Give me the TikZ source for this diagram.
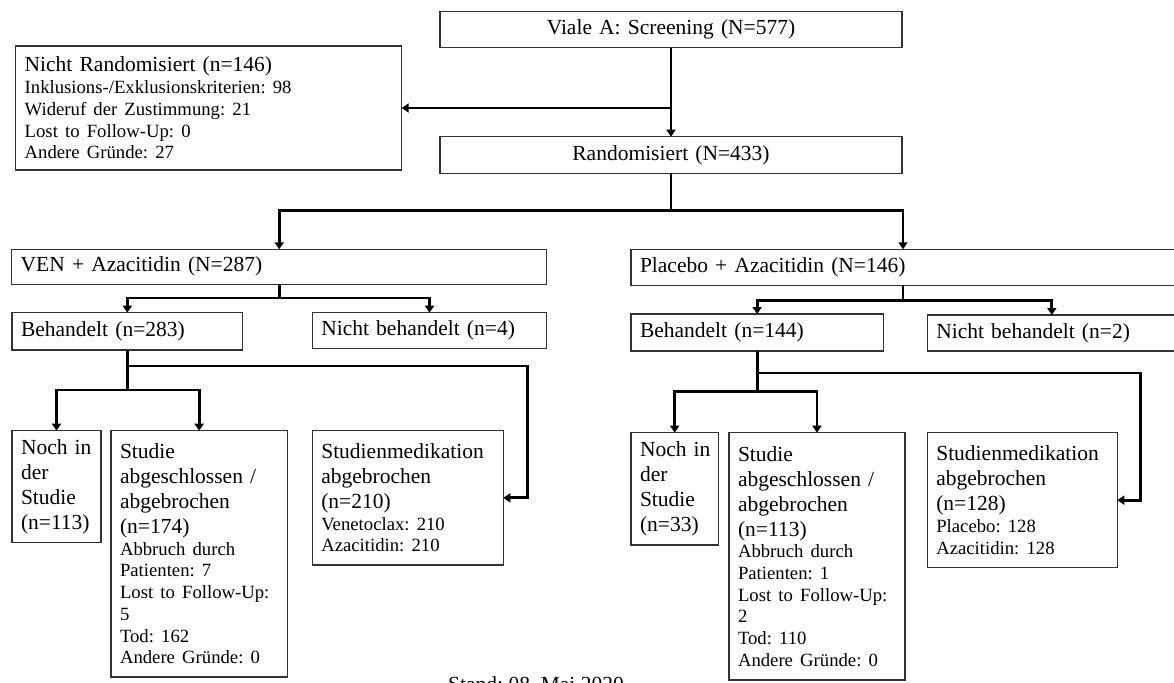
\documentclass[tikz,border=0pt]{standalone}
\usepackage{fontspec}
\setmainfont{Liberation Serif}
\usetikzlibrary{arrows.meta, calc}
\frenchspacing

\newcommand{\boxfont}{\fontsize{21.5}{25}\selectfont}
\newcommand{\notefont}{\fontsize{18.7}{21.7}\selectfont}

\begin{document}
\begin{tikzpicture}[
    x=1pt, y=-1pt,
    box/.style={draw=black!80, line width=1.5pt, rectangle, anchor=north west, outer sep=0pt,
                inner xsep=9pt, inner ysep=0pt, align=left, fill=white, font=\boxfont},
    centerbox/.style={box, align=center},
    narrowbox/.style={box, inner xsep=7pt},
    flow_line/.style={line width=2.8pt, black},
    flow_arrow/.style={flow_line, -{Triangle[length=7pt, width=9pt]}}
]
\fill[white] (0,0) rectangle (1174,682);
\useasboundingbox (0,0) rectangle (1174,682);
\clip (0,0) rectangle (1174,682);

% 1. Screening und Randomisierung
\node[centerbox, text width=444, minimum height=36] (screen) at (440,11.7) {Viale A: Screening (N=577)};
\node[box, text width=368, minimum height=124] (nrand) at (15.7,46)
    {Nicht Randomisiert (n=146)\par\notefont Inklusions-/Exklusionskriterien: 98\\ Wideruf der Zustimmung: 21\\ Lost to Follow-Up: 0\\ Andere Gründe: 27\par};
\node[centerbox, text width=444, minimum height=36.6] (rand) at (440,136.7) {Randomisiert (N=433)};

% 2. Studienarme
\node[box, text width=517, minimum height=35] (ven) at (11.7,249.3) {VEN + Azacitidin (N=287)};
\node[box, text width=526, minimum height=36] (pla) at (631,249.3) {Placebo + Azacitidin (N=146)};

\node[box, text width=212.7, minimum height=37.3] (beh_v) at (12,312.7) {Behandelt (n=283)};
\node[box, text width=216.4, minimum height=35.6] (nbeh_v) at (312.3,312.7) {Nicht behandelt (n=4)};
\node[box, text width=234.3, minimum height=37] (beh_p) at (631,314) {Behandelt (n=144)};
\node[box, text width=231, minimum height=36] (nbeh_p) at (927.3,315) {Nicht behandelt (n=2)};

% 3. Verlauf VEN + Azacitidin
\node[narrowbox, text width=75, minimum height=112] (noch_v) at (12,430.7) {\hspace{2pt}Noch in\\ \hspace*{2pt}der\\ \hspace*{2pt}Studie\\ \hspace*{2pt}(n=113)};
\node[box, text width=158.3, minimum height=246.3] (stud_v) at (111,430.7)
    {Studie\\ abgeschlossen /\\ abgebrochen\\ (n=174)\par\notefont Abbruch durch\\ Patienten: 7\\ Lost to Follow-Up:\\ 5\\ Tod: 162\\ Andere Gründe: 0\par};
\node[box, text width=173, minimum height=134.3] (med_v) at (312.3,430.7)
    {Studienmedikation\\ abgebrochen\\ (n=210)\par\notefont Venetoclax: 210\\ Azacitidin: 210\par};

% 4. Verlauf Placebo + Azacitidin
\node[narrowbox, text width=73.3, minimum height=112.3] (noch_p) at (631,432.7) {\hspace{2pt}Noch in\\ \hspace*{2pt}der\\ \hspace*{2pt}Studie\\ \hspace*{2pt}(n=33)};
\node[box, text width=158, minimum height=247.3] (stud_p) at (729,432.7)
    {Studie\\ abgeschlossen /\\ abgebrochen\\ (n=113)\par\notefont Abbruch durch\\ Patienten: 1\\ Lost to Follow-Up:\\ 2\\ Tod: 110\\ Andere Gründe: 0\par};
\node[box, text width=172, minimum height=135] (med_p) at (927.3,432.7)
    {Studienmedikation\\ abgebrochen\\ (n=128)\par\notefont Placebo: 128\\ Azacitidin: 128\par};

\node[anchor=base west, font=\boxfont, inner sep=0pt] (stand) at (448,691) {Stand: 08. Mai 2020};

% Knickpunkte der Verbindungen
\coordinate (armsplit) at (0,210.3);
\coordinate (vensplit) at (0,298);
\coordinate (plasplit) at (0,300.7);
\coordinate (vturn) at (527.3,366);
\coordinate (pturn) at (1140.7,373);
\coordinate (vsplit) at (0,390);
\coordinate (psplit) at (0,391.7);

% Verbindungen
\draw[flow_arrow] (screen.south) -- (rand.north);
\draw[flow_arrow] (screen.south |- nrand.east) -- (nrand.east);
\draw[flow_arrow] (rand.south) -- (rand.south |- armsplit) -| (ven.north);
\draw[flow_arrow] (rand.south) -- (rand.south |- armsplit) -| (pla.north);

\draw[flow_arrow] (ven.south) -- (ven.south |- vensplit) -| (beh_v.north);
\draw[flow_arrow] (ven.south) -- (ven.south |- vensplit) -| (nbeh_v.north);
\draw[flow_arrow] (pla.south) -- (pla.south |- plasplit) -| (beh_p.north);
\draw[flow_arrow] (pla.south) -- (pla.south |- plasplit) -| (nbeh_p.north);

\draw[flow_arrow] (beh_v.south) |- (vturn) |- (med_v.east);
\draw[flow_arrow] (beh_v.south) -- (beh_v.south |- vsplit) -| (noch_v.north);
\draw[flow_arrow] (beh_v.south) -- (beh_v.south |- vsplit) -| (stud_v.north);

\draw[flow_arrow] (beh_p.south) |- (pturn) |- (med_p.east);
\draw[flow_arrow] (beh_p.south) -- (beh_p.south |- psplit) -| (noch_p.north);
\draw[flow_arrow] (beh_p.south) -- (beh_p.south |- psplit) -| (stud_p.north);

\end{tikzpicture}
\end{document}
